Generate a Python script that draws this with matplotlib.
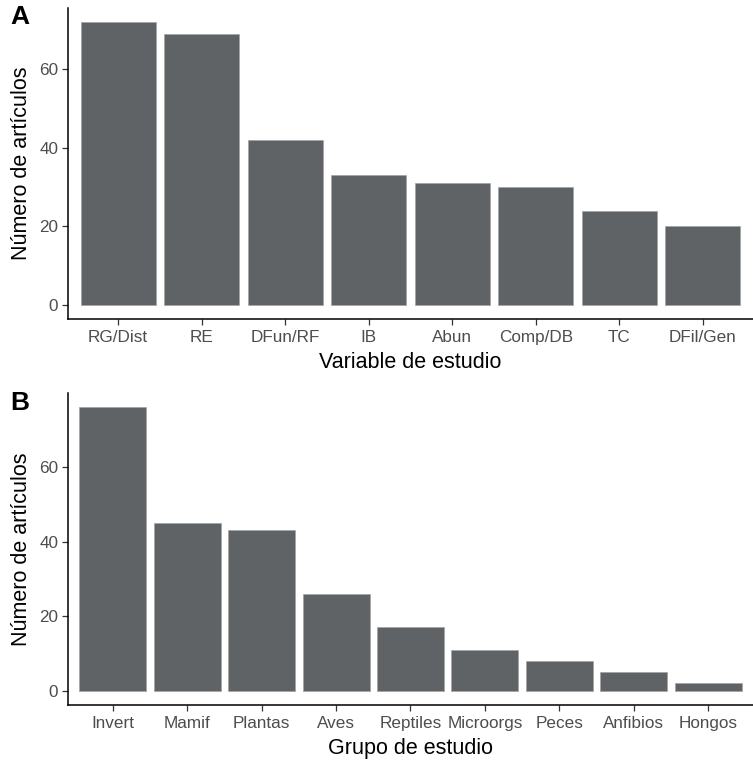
import matplotlib.pyplot as plt

plt.rcParams['font.family'] = ['Liberation Sans', 'DejaVu Sans']

#
# Data
variables = ['RG/Dist', 'RE', 'DFun/RF', 'IB', 'Abun', 'Comp/DB', 'TC', 'DFil/Gen']
n_variables = [72, 69, 42, 33, 31, 30, 24, 20]
grupos = ['Invert', 'Mamif', 'Plantas', 'Aves', 'Reptiles', 'Microorgs', 'Peces', 'Anfibios', 'Hongos']
n_grupos = [76, 45, 43, 26, 17, 11, 8, 5, 2]

bar_col = '#5f6366'
tick_col = '#4d4d4d'

fig = plt.figure(figsize=(7.53, 7.6), dpi=100)
axA = fig.add_axes([0.0903, 0.5803, 0.9097, 0.4092])
axB = fig.add_axes([0.0903, 0.0724, 0.9097, 0.4105])


def panel(ax, cats, vals, xlabel, letter, ylab_y):
    x = range(len(cats))
    ax.bar(x, vals, width=0.9, color=bar_col, edgecolor='#a0a2a4', linewidth=0.5)
    ax.set_xlim(-0.6, len(cats) - 0.4)
    top = max(vals)
    ax.set_ylim(-0.05 * top, top * 1.05)
    ax.set_yticks([0, 20, 40, 60])
    ax.set_xticks(list(x))
    ax.set_xticklabels(cats)
    for s in ['top', 'right']:
        ax.spines[s].set_visible(False)
    for s in ['left', 'bottom']:
        ax.spines[s].set_linewidth(1.1)
        ax.spines[s].set_color('black')
    ax.tick_params(axis='both', length=4, width=0.9, color='#333333',
                   labelcolor=tick_col, labelsize=12.3, pad=3)
    ax.tick_params(axis='x', pad=4)
    ax.set_xlabel(xlabel, fontsize=15.5, labelpad=5)
    ax.set_ylabel('Número de artículos', fontsize=15.5, labelpad=5)
    fig.text(0.014, ylab_y, letter, fontsize=19, fontweight='bold', va='top', ha='left')


panel(axA, variables, n_variables, 'Variable de estudio', 'A', 0.994)
panel(axB, grupos, n_grupos, 'Grupo de estudio', 'B', 0.485)

plt.savefig('out.png', dpi=100)
